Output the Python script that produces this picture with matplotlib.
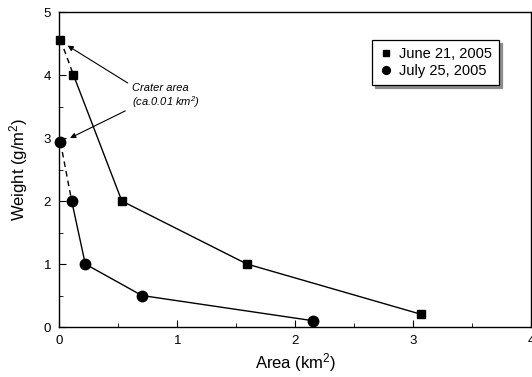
import matplotlib.pyplot as plt
from matplotlib.ticker import MultipleLocator

plt.rcParams['font.family'] = ['Liberation Sans', 'DejaVu Sans']
plt.rcParams['mathtext.fontset'] = 'custom'
plt.rcParams['mathtext.rm'] = 'Liberation Sans'
plt.rcParams['mathtext.it'] = 'Liberation Sans:italic'

# June 21, 2005
june_area = [0.01, 0.12, 0.53, 1.59, 3.07]
june_weight = [4.56, 4.0, 2.0, 1.0, 0.2]
# July 25, 2005
july_area = [0.01, 0.105, 0.22, 0.70, 2.15]
july_weight = [2.93, 2.0, 1.0, 0.5, 0.1]

fig = plt.figure(figsize=(5.32, 3.77), dpi=100)
ax = fig.add_axes([0.1115, 0.1326, 0.887, 0.8355])

# dashed segment from crater point, solid for the rest
ax.plot(june_area[:2], june_weight[:2], 'k--', lw=1.0, dashes=(4, 3))
ax.plot(june_area[1:], june_weight[1:], 'k-', lw=1.0)
ax.plot(july_area[:2], july_weight[:2], 'k--', lw=1.0, dashes=(4, 3))
ax.plot(july_area[1:], july_weight[1:], 'k-', lw=1.0)
ax.plot(june_area, june_weight, 'ks', ms=6, ls='none', label='June 21, 2005', clip_on=False)
ax.plot(july_area, july_weight, 'ko', ms=7.5, ls='none', label='July 25, 2005', clip_on=False)

ax.set_xlim(0, 4)
ax.set_ylim(0, 5)
ax.xaxis.set_major_locator(MultipleLocator(1))
ax.xaxis.set_minor_locator(MultipleLocator(0.5))
ax.yaxis.set_major_locator(MultipleLocator(1))
ax.yaxis.set_minor_locator(MultipleLocator(0.5))
ax.tick_params(which='both', direction='in', labelsize=9.5, pad=6)
ax.tick_params(which='major', length=5)
ax.tick_params(which='minor', length=3)
for s in ax.spines.values():
    s.set_linewidth(1.0)

ax.set_xlabel('Area (km$^\\mathregular{2}$)', fontsize=12, labelpad=3)
ax.set_ylabel('Weight (g/m$^\\mathregular{2}$)', fontsize=12, labelpad=10)

# annotation
ax.text(0.62, 3.80, 'Crater area', fontsize=8, style='italic', ha='left', va='center')
ax.text(0.62, 3.57, '(ca.0.01 km$^\\mathregular{2}$)', fontsize=8, style='italic', ha='left', va='center')
ax.annotate('', xy=(0.05, 4.49), xytext=(0.6, 3.85),
            arrowprops=dict(arrowstyle='-|>', color='k', lw=0.8, mutation_scale=8))
ax.annotate('', xy=(0.07, 2.98), xytext=(0.58, 3.45),
            arrowprops=dict(arrowstyle='-|>', color='k', lw=0.8, mutation_scale=8))

# legend with drop shadow
leg = ax.legend(loc='upper left', bbox_to_anchor=(0.648, 0.935), fontsize=10.5,
                frameon=True, fancybox=False, handlelength=0.8, handletextpad=0.5,
                borderpad=0.5, labelspacing=0.2, markerscale=0.75,
                shadow={'color': '0.55', 'alpha': 1})
leg.get_frame().set_edgecolor('k')
leg.get_frame().set_linewidth(0.9)

fig.savefig('out.png', dpi=100)
